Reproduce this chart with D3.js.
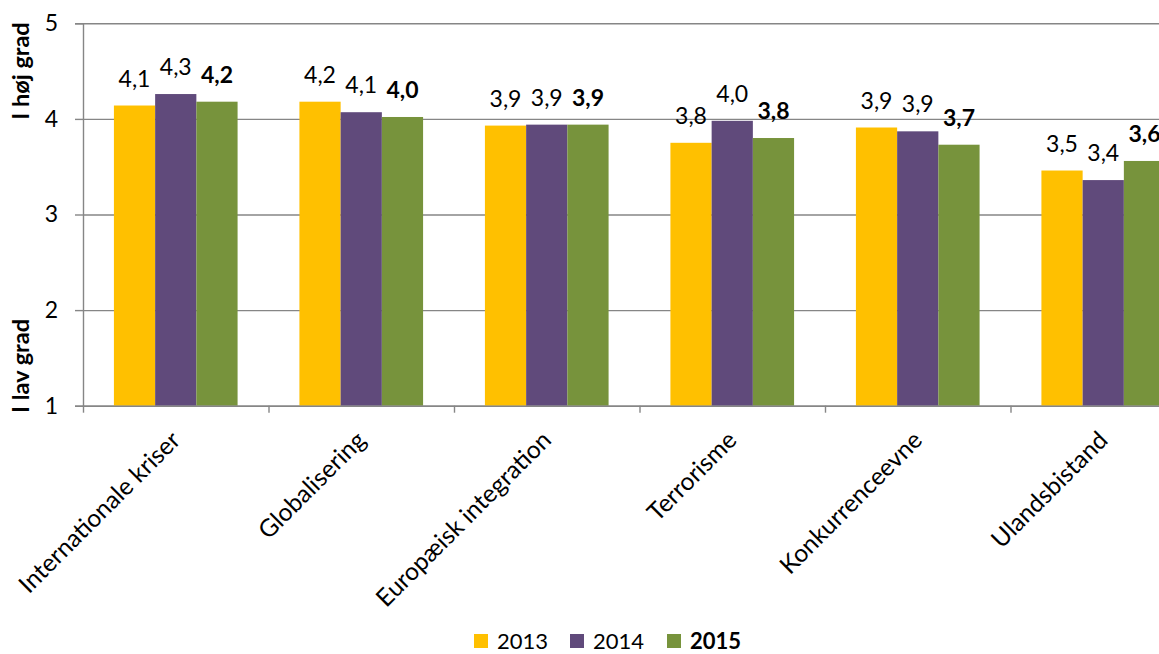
<!DOCTYPE html>
<html>
<head>
<meta charset="utf-8">
<script src="https://cdn.jsdelivr.net/npm/d3@7"></script>
<style>
  html, body { margin: 0; padding: 0; background: #fff; overflow: hidden; }
  svg { display: block; font-family: Lato, 'Noto Sans', sans-serif; }
</style>
</head>
<body>
<svg id="chart" width="1159" height="654"></svg>
<script>
const categories = ['Internationale kriser', 'Globalisering', 'Europæisk integration', 'Terrorisme', 'Konkurrenceevne', 'Ulandsbistand'];
const years = ['2013', '2014', '2015'];
const values2013 = [4.14, 4.18, 3.93, 3.75, 3.91, 3.46];
const values2014 = [4.26, 4.07, 3.94, 3.98, 3.87, 3.36];
const values2015 = [4.18, 4.02, 3.94, 3.80, 3.73, 3.56];
const labels2013 = ['4,1', '4,2', '3,9', '3,8', '3,9', '3,5'];
const labels2014 = ['4,3', '4,1', '3,9', '4,0', '3,9', '3,4'];
const labels2015 = ['4,2', '4,0', '3,9', '3,8', '3,7', '3,6'];
const yTicks = [1, 2, 3, 4, 5];
const colors = ['#ffc000', '#604a7b', '#77933c'];

const outerWidth = 1159;
const margin = { top: 23.3, left: 83 };
const groupWidth = 185.5;
const plotBottom = 405.7;

const svg = d3.select('#chart');

const series = [values2013, values2014, values2015];
const seriesLabels = [labels2013, labels2014, labels2015];
const rows = categories.map((c, i) => ({
    category: c,
    bars: years.map((y, j) => ({ year: y, value: series[j][i], label: seriesLabels[j][i], idx: j })),
}));

const x0 = d3.scaleBand()
    .domain(categories)
    .range([margin.left, margin.left + groupWidth * categories.length])
    .padding(0);
const x1 = d3.scaleBand()
    .domain(years)
    .range([0, x0.bandwidth()])
    .paddingInner(0)
    .paddingOuter(0.75);
const y = d3.scaleLinear().domain([1, 5]).range([plotBottom, margin.top]);
const color = d3.scaleOrdinal().domain(years).range(colors);

const axisColor = '#868686';

// horizontal grid
svg.append('g')
    .attr('transform', `translate(${margin.left},0)`)
    .call(d3.axisLeft(y).tickValues(yTicks).tickSize(-(outerWidth - margin.left)).tickFormat(''))
    .call(g => g.select('.domain').remove())
    .call(g => g.selectAll('line').attr('stroke', axisColor).attr('stroke-width', 1.4));

// y axis
svg.append('g')
    .attr('transform', `translate(${margin.left},0)`)
    .call(d3.axisLeft(y).tickValues(yTicks).tickSize(8).tickPadding(17).tickFormat(d3.format('d')))
    .call(g => g.select('.domain').attr('stroke', axisColor).attr('stroke-width', 1.4))
    .call(g => g.selectAll('line').attr('stroke', axisColor).attr('stroke-width', 1.4))
    .call(g => g.selectAll('text').attr('font-size', 23).attr('fill', '#000').attr('font-family', 'Lato'));

// bars
const groups = svg.append('g').selectAll('g')
    .data(rows)
    .join('g')
    .attr('transform', d => `translate(${x0(d.category)},0)`);

groups.selectAll('rect')
    .data(d => d.bars)
    .join('rect')
    .attr('x', d => x1(d.year))
    .attr('y', d => y(d.value))
    .attr('width', x1.bandwidth())
    .attr('height', d => y(1) - y(d.value))
    .attr('fill', d => color(d.year));

groups.selectAll('text')
    .data(d => d.bars)
    .join('text')
    .attr('x', d => x1(d.year) + x1.bandwidth() / 2)
    .attr('y', d => y(d.value) - 19)
    .attr('text-anchor', 'middle')
    .attr('font-size', 23)
    .attr('font-weight', d => d.idx === 2 ? 700 : 400)
    .attr('fill', '#000')
    .text(d => d.label);

// x axis boundary ticks
const xEdges = d3.scaleLinear().domain([0, categories.length]).range(x0.range());
svg.append('g')
    .attr('transform', `translate(0,${plotBottom})`)
    .call(d3.axisBottom(xEdges).tickValues(d3.range(categories.length + 1)).tickSize(7).tickFormat(''))
    .call(g => g.select('.domain').remove())
    .call(g => g.selectAll('line').attr('stroke', axisColor).attr('stroke-width', 1.4));

// x axis line + category labels
svg.append('g')
    .attr('transform', `translate(0,${plotBottom})`)
    .call(d3.axisBottom(x0).tickSize(0))
    .call(g => g.select('.domain').attr('stroke', axisColor).attr('stroke-width', 1.4))
    .call(g => g.selectAll('text')
        .attr('x', 0).attr('y', 0).attr('dy', 0)
        .attr('text-anchor', 'end')
        .attr('transform', 'translate(6,36) rotate(-45)')
        .attr('font-size', 24.5)
        .attr('font-family', 'Lato')
        .attr('fill', '#000'));

// y axis titles
svg.append('text')
    .attr('transform', 'translate(29,71) rotate(-90)')
    .attr('text-anchor', 'middle')
    .attr('font-size', 23.5)
    .attr('font-weight', 700)
    .text('I høj grad');

svg.append('text')
    .attr('transform', 'translate(29,366) rotate(-90)')
    .attr('text-anchor', 'middle')
    .attr('font-size', 23.5)
    .attr('font-weight', 700)
    .text('I lav grad');

// legend
const legendX = [474, 570, 667];
const legend = svg.append('g').selectAll('g')
    .data(years)
    .join('g')
    .attr('transform', (d, i) => `translate(${legendX[i]},634)`);

legend.append('rect')
    .attr('width', 14)
    .attr('height', 14)
    .attr('fill', d => color(d));

legend.append('text')
    .attr('x', 23)
    .attr('y', 15)
    .attr('font-size', 22)
    .attr('font-weight', (d, i) => i === 2 ? 700 : 400)
    .text(d => d);
</script>
</body>
</html>
